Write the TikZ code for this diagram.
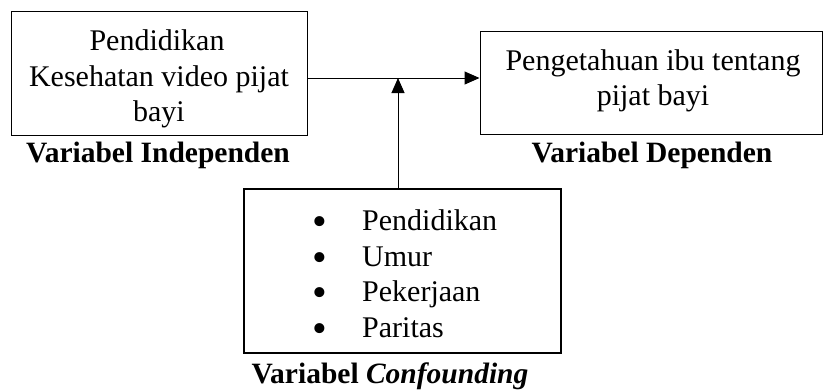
\documentclass[tikz,border=0pt]{standalone}
\usepackage{graphicx}
\usepackage{fontspec}
\setmainfont{Liberation Serif}
\usetikzlibrary{arrows.meta}
\newcommand{\bulitem}{\makebox[14pt][c]{\smash{\raisebox{-5pt}{\scalebox{1.4}{•}}}}\hspace{35pt}}
\begin{document}
\begin{tikzpicture}[x=1pt,y=-1pt,
  box/.style={draw=black,line width=1pt,inner sep=0pt,fill=white},
  bbox/.style={draw=black,line width=2pt,inner sep=0pt},
  txt/.style={inner sep=0pt,anchor=base,font=\fontsize{30}{36}\selectfont},
  lbl/.style={inner sep=0pt,anchor=base,font=\fontsize{29.5}{36}\selectfont\bfseries},
  item/.style={inner sep=0pt,anchor=base west,font=\fontsize{30}{36}\selectfont},
  conn/.style={line width=1pt,-{Triangle[length=15pt,width=13pt]}}]
\useasboundingbox (0,0) rectangle (829,389);
% boxes
\node[box,minimum width=296pt,minimum height=124pt] (lbox) at (159,73) {};
\node[box,minimum width=342pt,minimum height=103pt] (rbox) at (651,82.5) {};
\node[bbox,minimum width=317pt,minimum height=164pt] (cbox) at (402.5,271) {};
% left texts
\node[txt] (l1) at (157,50) {Pendidikan};
\node[txt] (l2) at (159,86) {Kesehatan video pijat};
\node[txt] (l3) at (159,121) {bayi};
\node[lbl] (llbl) at (158,162) {Variabel Independen};
% right texts
\node[txt] (r1) at (653,70.5) {Pengetahuan ibu tentang};
\node[txt] (r2) at (653,105) {pijat bayi};
\node[lbl] (rlbl) at (652,162) {Variabel Dependen};
% confounding list
\node[item] (i1) at (313,230) {\bulitem Pendidikan};
\node[item] (i2) at (313,266) {\bulitem Umur};
\node[item] (i3) at (313,301) {\bulitem Pekerjaan};
\node[item] (i4) at (313,337) {\bulitem Paritas};
\node[lbl] (clbl) at (390,383) {Variabel \textit{Confounding}};
% connectors
\coordinate (j) at (398,78);
\coordinate (cs) at (398,189);
\draw[conn] (lbox.east |- j) -- (rbox.west |- j);
\draw[conn] (cs) -- (j);
\end{tikzpicture}
\end{document}
